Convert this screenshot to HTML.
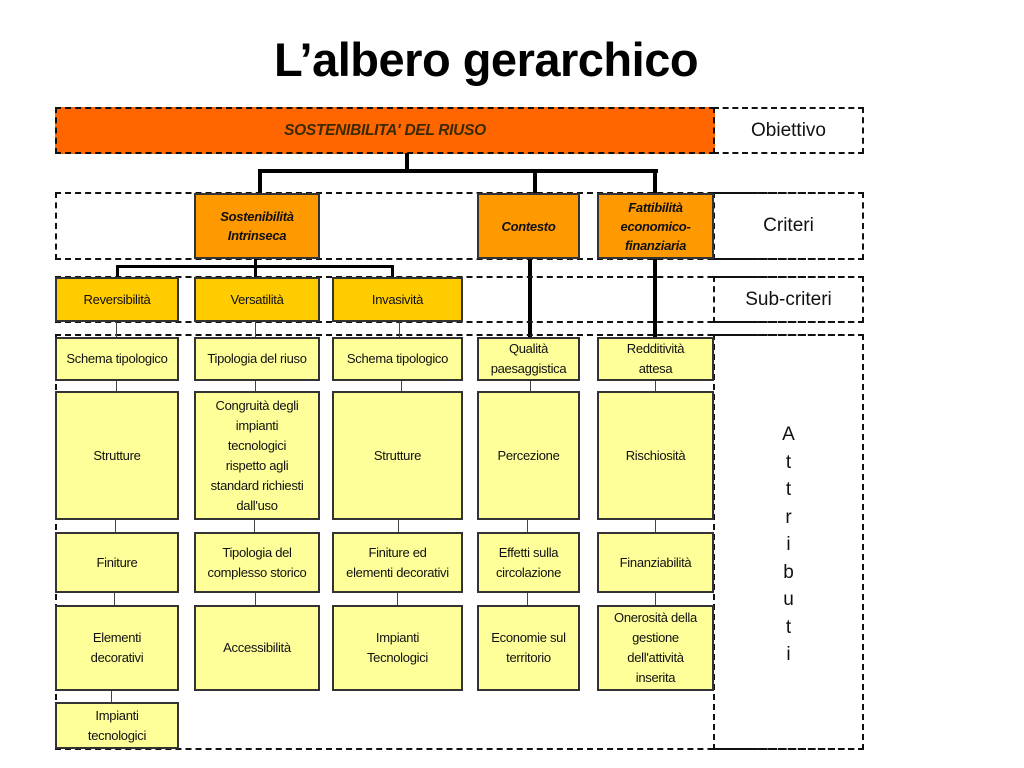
<!DOCTYPE html>
<html><head><meta charset="utf-8"><style>
body{margin:0;width:1024px;height:768px;background:#fff;position:relative;overflow:hidden;font-family:"Liberation Sans","DejaVu Sans",sans-serif}
.a{position:absolute;box-sizing:border-box}
.d{border:2px dashed #111}
.b{display:flex;align-items:center;justify-content:center;text-align:center;border:2px solid #333;color:#111;font-size:13px;line-height:20px;letter-spacing:-0.3px}
.y{background:#ffff99}
.o{background:#ffcc00}
.c{background:#ff9900;font-weight:bold;font-style:italic;font-size:13px;line-height:19px}
.l{display:flex;align-items:center;justify-content:center;font-size:19px;color:#111}
.k{background:#000}
.t{background:#444}
</style></head><body>
<div class="a" style="left:0;top:30px;width:972px;text-align:center;font-size:47px;font-weight:bold;line-height:60px;letter-spacing:-0.5px">L’albero gerarchico</div>

<div class="a d b" style="left:55px;top:107px;width:660px;height:47px;background:#ff6600;font-weight:bold;font-style:italic;font-size:15.5px;color:#3a2a00;border:2px dashed #111">SOSTENIBILITA' DEL RIUSO</div>
<div class="a d l" style="left:713px;top:107px;width:151px;height:47px">Obiettivo</div>

<div class="a k" style="left:405px;top:153px;width:4px;height:19px"></div>
<div class="a k" style="left:258px;top:169px;width:400px;height:4px"></div>
<div class="a k" style="left:258px;top:169px;width:4px;height:24px"></div>
<div class="a k" style="left:533px;top:169px;width:4px;height:24px"></div>
<div class="a k" style="left:653px;top:169px;width:4px;height:24px"></div>

<div class="a d" style="left:55px;top:192px;width:809px;height:68px"></div>
<div class="a d l" style="left:713px;top:192px;width:151px;height:68px">Criteri</div>
<div class="a b c" style="left:194px;top:193px;width:126px;height:66px">Sostenibilità<br>Intrinseca</div>
<div class="a b c" style="left:477px;top:193px;width:103px;height:66px">Contesto</div>
<div class="a b c" style="left:597px;top:193px;width:117px;height:66px">Fattibilità<br>economico-<br>finanziaria</div>

<div class="a k" style="left:254px;top:259px;width:3px;height:9px"></div>
<div class="a k" style="left:116px;top:265px;width:278px;height:3px"></div>
<div class="a k" style="left:116px;top:265px;width:3px;height:12px"></div>
<div class="a k" style="left:254px;top:265px;width:3px;height:12px"></div>
<div class="a k" style="left:391px;top:265px;width:3px;height:12px"></div>
<div class="a k" style="left:528px;top:259px;width:4px;height:79px"></div>
<div class="a k" style="left:653px;top:259px;width:4px;height:79px"></div>

<div class="a d" style="left:55px;top:276px;width:809px;height:47px"></div>
<div class="a d l" style="left:713px;top:276px;width:151px;height:47px">Sub-criteri</div>
<div class="a b o" style="left:55px;top:277px;width:124px;height:45px">Reversibilità</div>
<div class="a b o" style="left:194px;top:277px;width:126px;height:45px">Versatilità</div>
<div class="a b o" style="left:332px;top:277px;width:131px;height:45px">Invasività</div>

<div class="a d" style="left:55px;top:334px;width:809px;height:416px"></div>
<div class="a d" style="left:713px;top:334px;width:151px;height:416px"></div>
<div class="a" style="left:713px;top:421px;width:151px;text-align:center;font-size:19px;line-height:27.5px;color:#111">A<br>t<br>t<br>r<br>i<br>b<br>u<br>t<br>i</div>

<div class="a t" style="left:116px;top:322px;width:1px;height:16px"></div>
<div class="a t" style="left:255px;top:322px;width:1px;height:16px"></div>
<div class="a t" style="left:399px;top:322px;width:1px;height:16px"></div>
<div class="a t" style="left:116px;top:380px;width:1px;height:12px"></div>
<div class="a t" style="left:255px;top:380px;width:1px;height:12px"></div>
<div class="a t" style="left:401px;top:380px;width:1px;height:12px"></div>
<div class="a t" style="left:530px;top:380px;width:1px;height:12px"></div>
<div class="a t" style="left:655px;top:380px;width:1px;height:12px"></div>
<div class="a t" style="left:115px;top:519px;width:1px;height:14px"></div>
<div class="a t" style="left:254px;top:519px;width:1px;height:14px"></div>
<div class="a t" style="left:398px;top:519px;width:1px;height:14px"></div>
<div class="a t" style="left:527px;top:519px;width:1px;height:14px"></div>
<div class="a t" style="left:655px;top:519px;width:1px;height:14px"></div>
<div class="a t" style="left:114px;top:592px;width:1px;height:14px"></div>
<div class="a t" style="left:255px;top:592px;width:1px;height:14px"></div>
<div class="a t" style="left:397px;top:592px;width:1px;height:14px"></div>
<div class="a t" style="left:527px;top:592px;width:1px;height:14px"></div>
<div class="a t" style="left:655px;top:592px;width:1px;height:14px"></div>
<div class="a t" style="left:111px;top:690px;width:1px;height:13px"></div>

<div class="a b y" style="left:55px;top:337px;width:124px;height:44px">Schema tipologico</div>
<div class="a b y" style="left:55px;top:391px;width:124px;height:129px">Strutture</div>
<div class="a b y" style="left:55px;top:532px;width:124px;height:61px">Finiture</div>
<div class="a b y" style="left:55px;top:605px;width:124px;height:86px">Elementi<br>decorativi</div>
<div class="a b y" style="left:55px;top:702px;width:124px;height:47px">Impianti<br>tecnologici</div>

<div class="a b y" style="left:194px;top:337px;width:126px;height:44px">Tipologia del riuso</div>
<div class="a b y" style="left:194px;top:391px;width:126px;height:129px">Congruità degli<br>impianti<br>tecnologici<br>rispetto agli<br>standard richiesti<br>dall'uso</div>
<div class="a b y" style="left:194px;top:532px;width:126px;height:61px">Tipologia del<br>complesso storico</div>
<div class="a b y" style="left:194px;top:605px;width:126px;height:86px">Accessibilità</div>

<div class="a b y" style="left:332px;top:337px;width:131px;height:44px">Schema tipologico</div>
<div class="a b y" style="left:332px;top:391px;width:131px;height:129px">Strutture</div>
<div class="a b y" style="left:332px;top:532px;width:131px;height:61px">Finiture ed<br>elementi decorativi</div>
<div class="a b y" style="left:332px;top:605px;width:131px;height:86px">Impianti<br>Tecnologici</div>

<div class="a b y" style="left:477px;top:337px;width:103px;height:44px">Qualità<br>paesaggistica</div>
<div class="a b y" style="left:477px;top:391px;width:103px;height:129px">Percezione</div>
<div class="a b y" style="left:477px;top:532px;width:103px;height:61px">Effetti sulla<br>circolazione</div>
<div class="a b y" style="left:477px;top:605px;width:103px;height:86px">Economie sul<br>territorio</div>

<div class="a b y" style="left:597px;top:337px;width:117px;height:44px">Redditività<br>attesa</div>
<div class="a b y" style="left:597px;top:391px;width:117px;height:129px">Rischiosità</div>
<div class="a b y" style="left:597px;top:532px;width:117px;height:61px">Finanziabilità</div>
<div class="a b y" style="left:597px;top:605px;width:117px;height:86px">Onerosità della<br>gestione<br>dell'attività<br>inserita</div>
</body></html>
